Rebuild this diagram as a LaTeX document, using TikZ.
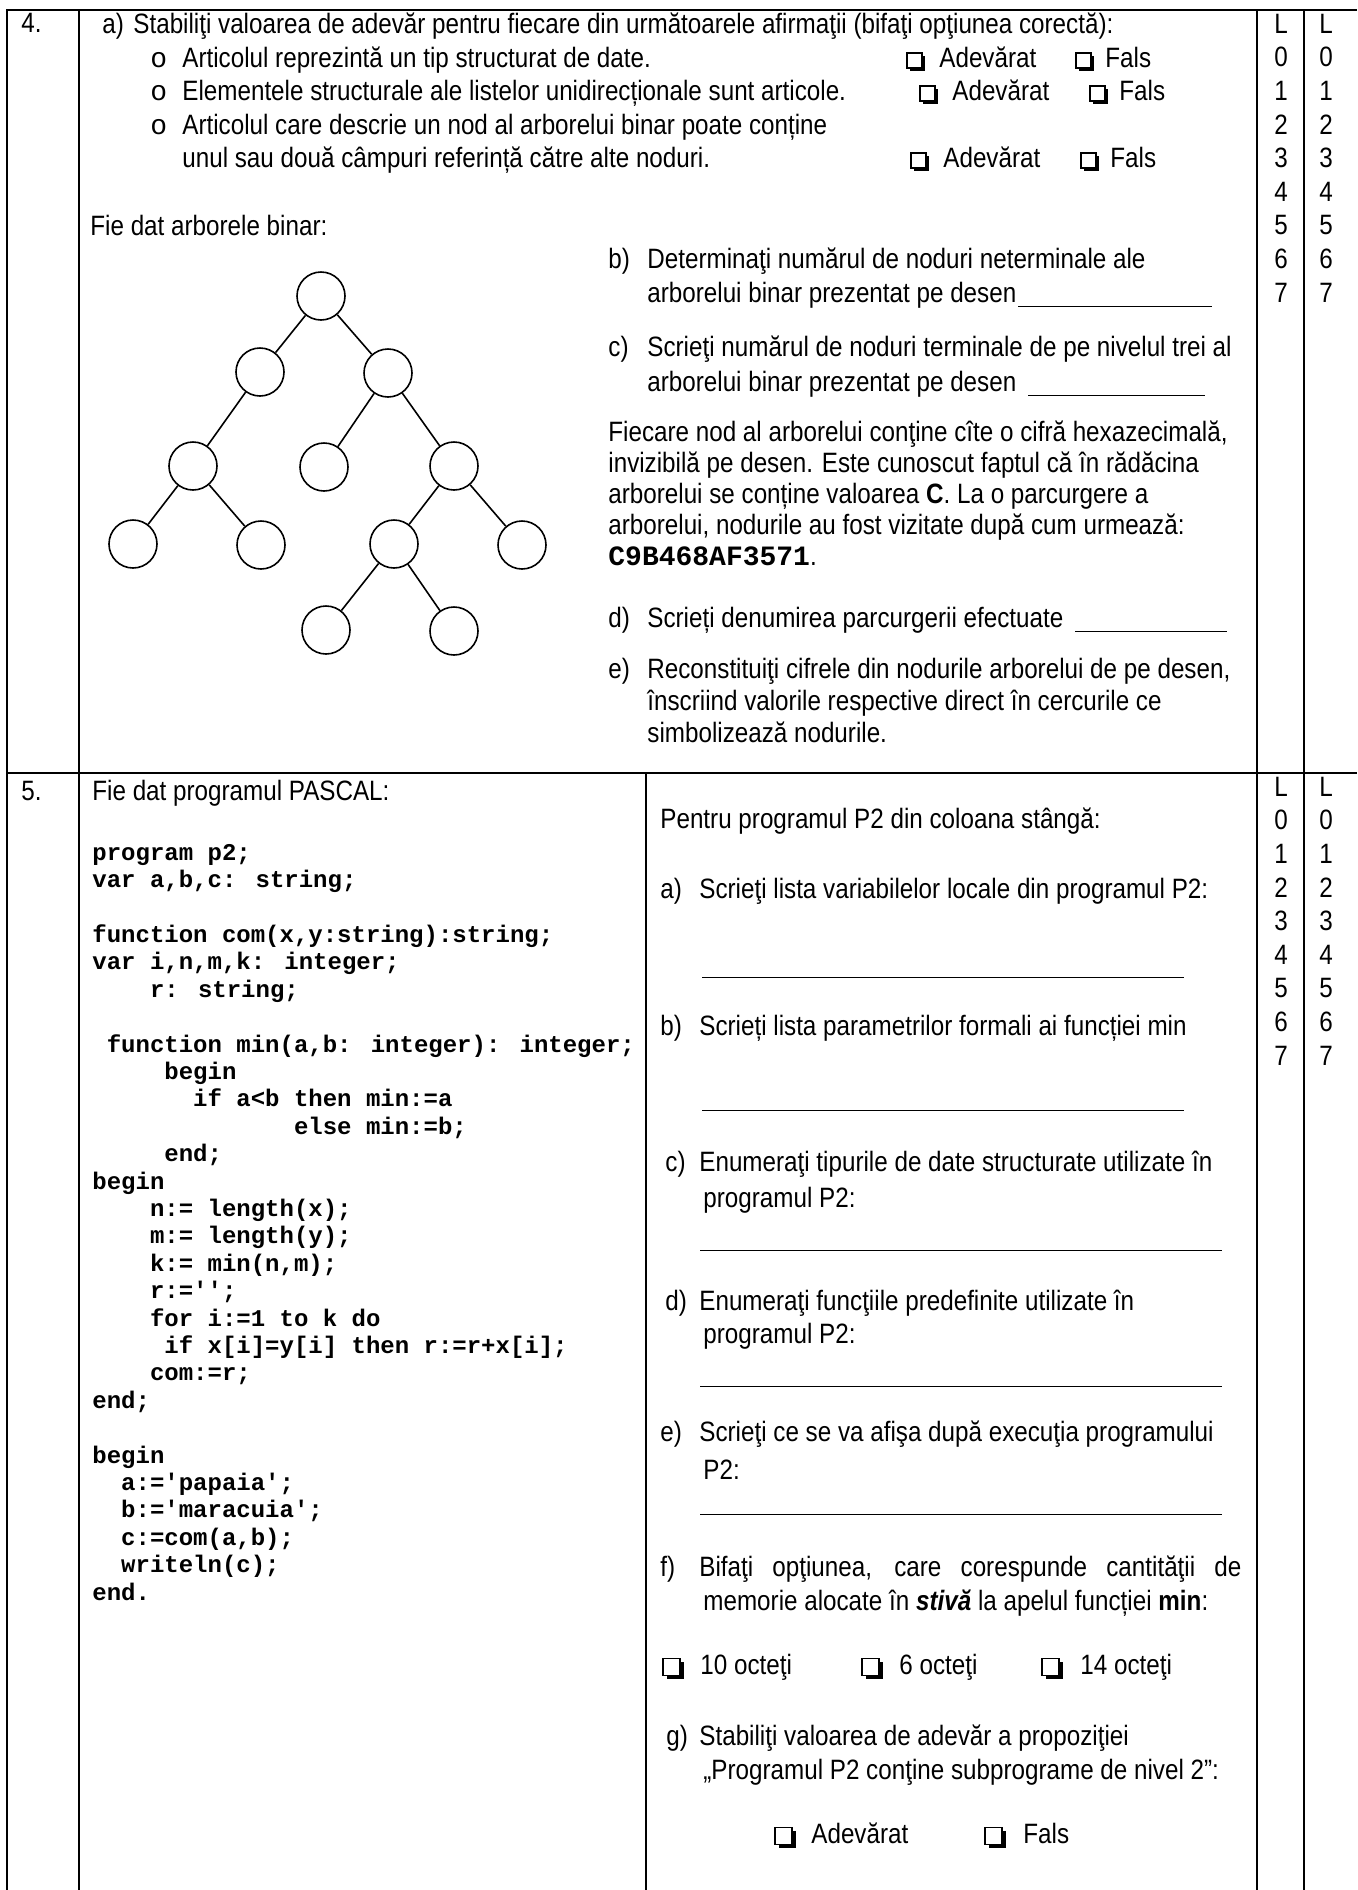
\documentclass[tikz,border=0pt]{standalone}
\usepackage{fontspec}
\setmainfont{Liberation Sans}[FakeStretch=0.865]
\newfontfamily\codefont{Liberation Mono}[Ligatures=TeXOff]
\newfontfamily\bulfont{Liberation Mono}
\newcommand\txtsize{\fontsize{14pt}{16.8pt}\selectfont}
% checkbox with shadow: name, x, y, square size, shadow width
\newcommand\chkbox[5]{%
  \node[draw, line width=0.6pt, minimum size=#4, inner sep=0pt, outer sep=0pt, anchor=west] (#1) at (#2,#3) {};
  \fill ([xshift=#5]#1.south west) rectangle ([xshift=#5,yshift=-#5]#1.south east);
  \fill ([yshift=-#5]#1.north east) rectangle ([xshift=#5,yshift=-#5]#1.south east);
}
\begin{document}
\begin{tikzpicture}[x=0.5pt,y=-0.5pt,
  txt/.style={inner sep=0pt, anchor=mid west, font=\txtsize},
  ctxt/.style={inner sep=0pt, anchor=mid, font=\txtsize},
  bul/.style={inner sep=0pt, anchor=mid west, font=\bulfont\txtsize},
  cd/.style={inner sep=0pt, anchor=mid west, font=\codefont\bfseries\fontsize{12pt}{13.7pt}\selectfont},
  grid/.style={line width=1pt},
  tnode/.style={circle, draw, line width=0.8pt, minimum size=24pt, inner sep=0pt},
  tedge/.style={line width=0.8pt},
  blankline/.style={line width=0.5pt}]
\useasboundingbox (0,0) rectangle (1357,1890);
\fill[white] (0,0) rectangle (1357,1890);
% table grid
\draw[grid] (7,1890) -- (7,10) -- (1357,10);
\draw[grid] (79,10) -- (79,1890);
\draw[grid] (1257,10) -- (1257,1890);
\draw[grid] (1304,10) -- (1304,1890);
\draw[grid] (7,773) -- (1357,773);
\draw[grid] (646,773) -- (646,1890);
% L columns
\foreach \t [count=\i from 0] in {L,0,1,2,3,4,5,6,7} {
  \node[ctxt] (la\i) at (1281,{28+33.6*\i}) {\t};
  \node[ctxt] (lb\i) at (1326,{28+33.6*\i}) {\t};
  \node[ctxt] (lc\i) at (1281,{791+33.6*\i}) {\t};
  \node[ctxt] (ld\i) at (1326,{791+33.6*\i}) {\t};
}
% ---------- row 4 ----------
\node[txt] (num4) at (21,27) {4.};
\node[txt] (qa) at (102,28) {a)};
\node[txt] (qat) at (133,28) {Stabiliţi valoarea de adevăr pentru fiecare din următoarele afirmaţii (bifaţi opţiunea corectă):};
\node[bul] (b1) at (150,62) {o};
\node[bul] (b2) at (150,95) {o};
\node[bul] (b3) at (150,129) {o};
\node[txt] (s1) at (182,62) {Articolul reprezintă un tip structurat de date.};
\node[txt] (s2) at (182,95) {Elementele structurale ale listelor unidirecționale sunt articole.};
\node[txt] (s3) at (182,129) {Articolul care descrie un nod al arborelui binar poate conține};
\node[txt] (s3b) at (182,162) {unul sau două câmpuri referință către alte noduri.};
\chkbox{k1a}{907}{60.5}{7.5pt}{1.4pt}
\node[txt] (t1a) at (939,62) {Adevărat};
\chkbox{k1f}{1076}{60.5}{7.5pt}{1.4pt}
\node[txt] (t1f) at (1105,62) {Fals};
\chkbox{k2a}{920}{93.5}{7.5pt}{1.4pt}
\node[txt] (t2a) at (952,95) {Adevărat};
\chkbox{k2f}{1090}{93.5}{7.5pt}{1.4pt}
\node[txt] (t2f) at (1119,95) {Fals};
\chkbox{k3a}{911}{160.5}{7.5pt}{1.4pt}
\node[txt] (t3a) at (943,162) {Adevărat};
\chkbox{k3f}{1081}{160.5}{7.5pt}{1.4pt}
\node[txt] (t3f) at (1110,162) {Fals};
\node[txt] (fie4) at (90,230) {Fie dat arborele binar:};
% tree
\node[tnode] (r) at (321,296) {};
\node[tnode] (n1) at (260,372) {};
\node[tnode] (n2) at (388,373) {};
\node[tnode] (n3) at (193,466) {};
\node[tnode] (n4) at (324,467) {};
\node[tnode] (n5) at (454,466) {};
\node[tnode] (n6) at (133,544) {};
\node[tnode] (n7) at (261,545) {};
\node[tnode] (n8) at (394,544) {};
\node[tnode] (n9) at (522,545) {};
\node[tnode] (n10) at (326,630) {};
\node[tnode] (n11) at (454,631) {};
\draw[tedge] (r) -- (n1);
\draw[tedge] (r) -- (n2);
\draw[tedge] (n1) -- (n3);
\draw[tedge] (n2) -- (n4);
\draw[tedge] (n2) -- (n5);
\draw[tedge] (n3) -- (n6);
\draw[tedge] (n3) -- (n7);
\draw[tedge] (n5) -- (n8);
\draw[tedge] (n5) -- (n9);
\draw[tedge] (n8) -- (n10);
\draw[tedge] (n8) -- (n11);
% right part row 4
\node[txt] (qb) at (608,263) {b)};
\node[txt] (qbt) at (647,263) {Determinaţi numărul de noduri neterminale ale};
\node[txt] (qbt2) at (647,297) {arborelui binar prezentat pe desen};
\draw[blankline] (1018,306) -- (1212,306);
\node[txt] (qc) at (608,351) {c)};
\node[txt] (qct) at (647,351) {Scrieţi numărul de noduri terminale de pe nivelul trei al};
\node[txt] (qct2) at (647,386) {arborelui binar prezentat pe desen};
\draw[blankline] (1028,395) -- (1205,395);
\node[txt] (p1) at (608,436) {Fiecare nod al arborelui conţine cîte o cifră hexazecimală,};
\node[txt] (p2) at (608,467) {invizibilă pe desen. Este cunoscut faptul că în rădăcina};
\node[txt] (p3) at (608,498) {arborelui se conține valoarea \textbf{C}. La o parcurgere a};
\node[txt] (p4) at (608,529) {arborelui, nodurile au fost vizitate după cum urmează:};
\node[txt] (p5) at (608,560) {{\codefont\bfseries C9B468AF3571}.};
\node[txt] (qd) at (608,622) {d)};
\node[txt] (qdt) at (647,622) {Scrieți denumirea parcurgerii efectuate};
\draw[blankline] (1075,631) -- (1227,631);
\node[txt] (qe) at (608,673) {e)};
\node[txt] (qet) at (647,673) {Reconstituiţi cifrele din nodurile arborelui de pe desen,};
\node[txt] (qet2) at (647,705) {înscriind valorile respective direct în cercurile ce};
\node[txt] (qet3) at (647,737) {simbolizează nodurile.};
% ---------- row 5 ----------
\node[txt] (num5) at (21,795) {5.};
\node[txt] (fie5) at (92,795) {Fie dat programul PASCAL:};
\node[cd] (c0) at (92,855) {program p2;};
\node[cd] (c1) at (92,882.4) {var a,b,c: string;};
\node[cd] (c3) at (92,937.2) {function com(x,y:string):string;};
\node[cd] (c4) at (92,964.6) {var i,n,m,k: integer;};
\node[cd] (c5) at (149.6,992) {r: string;};
\node[cd] (c7) at (106.4,1046.8) {function min(a,b: integer): integer;};
\node[cd] (c8) at (164,1074.2) {begin};
\node[cd] (c9) at (192.8,1101.6) {if a<b then min:=a};
\node[cd] (c10) at (293.6,1129) {else min:=b;};
\node[cd] (c11) at (164,1156.4) {end;};
\node[cd] (c12) at (92,1183.8) {begin};
\node[cd] (c13) at (149.6,1211.2) {n:= length(x);};
\node[cd] (c14) at (149.6,1238.6) {m:= length(y);};
\node[cd] (c15) at (149.6,1266) {k:= min(n,m);};
\node[cd] (c16) at (149.6,1293.4) {r:='';};
\node[cd] (c17) at (149.6,1320.8) {for i:=1 to k do};
\node[cd] (c18) at (164,1348.2) {if x[i]=y[i] then r:=r+x[i];};
\node[cd] (c19) at (149.6,1375.6) {com:=r;};
\node[cd] (c20) at (92,1403) {end;};
\node[cd] (c22) at (92,1457.8) {begin};
\node[cd] (c23) at (120.8,1485.2) {a:='papaia';};
\node[cd] (c24) at (120.8,1512.6) {b:='maracuia';};
\node[cd] (c25) at (120.8,1540) {c:=com(a,b);};
\node[cd] (c26) at (120.8,1567.4) {writeln(c);};
\node[cd] (c27) at (92,1594.8) {end.};
% right column row 5
\node[txt] (pen) at (660,823) {Pentru programul P2 din coloana stângă:};
\node[txt] (ra) at (660,893) {a)};
\node[txt] (rat) at (699,893) {Scrieţi lista variabilelor locale din programul P2:};
\draw[blankline] (702,977) -- (1184,977);
\node[txt] (rb) at (660,1030) {b)};
\node[txt] (rbt) at (699,1030) {Scrieți lista parametrilor formali ai funcției min};
\draw[blankline] (702,1110) -- (1184,1110);
\node[txt] (rc) at (665,1166) {c)};
\node[txt] (rct) at (699,1166) {Enumeraţi tipurile de date structurate utilizate în};
\node[txt] (rct2) at (703,1202) {programul P2:};
\draw[blankline] (700,1250) -- (1222,1250);
\node[txt] (rd) at (665,1305) {d)};
\node[txt] (rdt) at (699,1305) {Enumeraţi funcţiile predefinite utilizate în};
\node[txt] (rdt2) at (703,1338) {programul P2:};
\draw[blankline] (700,1386) -- (1222,1386);
\node[txt] (re) at (660,1436) {e)};
\node[txt] (ret) at (699,1436) {Scrieţi ce se va afişa după execuţia programului};
\node[txt] (ret2) at (703,1474) {P2:};
\draw[blankline] (700,1514) -- (1222,1514);
\node[txt] (rf) at (660,1571) {f)};
\node[txt] (rft) at (699,1571) {\makebox[271pt][s]{Bifaţi opţiunea, care corespunde cantităţii de}};
\node[txt] (rft2) at (703,1605) {memorie alocate în \textbf{\textit{stivă}} la apelul funcției \textbf{min}:};
\chkbox{o1k}{663}{1667}{8.5pt}{1.8pt}
\node[txt] (o1) at (700,1669) {10 octeţi};
\chkbox{o2k}{862}{1667}{8.5pt}{1.8pt}
\node[txt] (o2) at (899,1669) {6 octeţi};
\chkbox{o3k}{1042}{1667}{8.5pt}{1.8pt}
\node[txt] (o3) at (1080,1669) {14 octeţi};
\node[txt] (rg) at (666,1740) {g)};
\node[txt] (rgt) at (699,1740) {Stabiliţi valoarea de adevăr a propoziţiei};
\node[txt] (rgt2) at (703,1774) {„Programul P2 conţine subprograme de nivel 2”:};
\chkbox{gak}{775}{1836}{8.5pt}{1.8pt}
\node[txt] (ga) at (811,1838) {Adevărat};
\chkbox{gfk}{985}{1836}{8.5pt}{1.8pt}
\node[txt] (gf) at (1023,1838) {Fals};
\end{tikzpicture}
\end{document}
